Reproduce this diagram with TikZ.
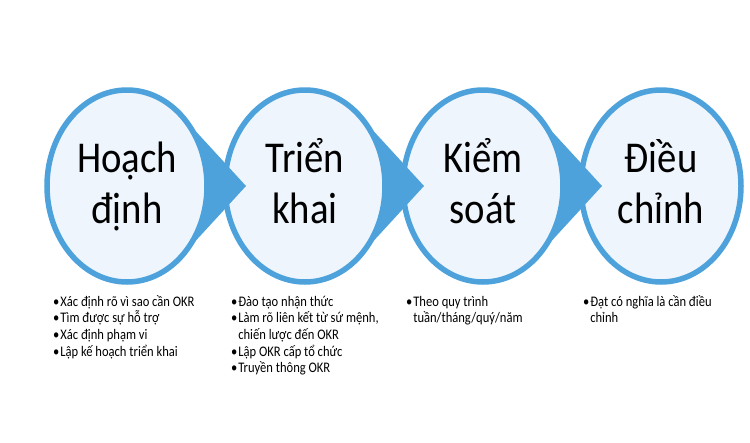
\documentclass[tikz,border=0pt]{standalone}
\usepackage{fontspec}
\usepackage{graphicx}
\setmainfont{Carlito}
\usetikzlibrary{shapes.geometric,calc}
\definecolor{okrblue}{HTML}{4EA2DB}
\definecolor{okrfill}{HTML}{EEF5FC}
\newcommand{\okrbul}{\makebox[8.3pt][l]{•}}
\newcommand{\okrind}{\hspace*{8.3pt}}
\newcommand{\okrbig}[2]{\scalebox{0.88}[1]{\fontsize{44}{51}\selectfont\begin{tabular}{@{}c@{}}#1\\#2\end{tabular}}}
\newcommand{\okrlist}[1]{\scalebox{0.86}[1]{\fontsize{14.6}{16.7}\selectfont\begin{tabular}{@{}l@{}}#1\end{tabular}}}
\begin{document}
\begin{tikzpicture}[x=1pt,y=-1pt,
  stage/.style={ellipse, draw=okrblue, fill=okrfill, line width=5.5pt,
    minimum width=160pt, minimum height=192pt, inner sep=0pt},
  arrowpart/.style={fill=okrblue},
  biglabel/.style={anchor=north, inner sep=0pt, text=black},
  bulletlist/.style={anchor=north west, inner sep=0pt, text=black}]
\fill[white] (0,0) rectangle (750,442);
\useasboundingbox (0,0) rectangle (750,442);
% stages
\node[stage] (s1) at (127,186) {};
\node[stage] (s2) at (305,186) {};
\node[stage] (s3) at (483,186) {};
\node[stage] (s4) at (661,186) {};
% arrow points
\foreach \s in {s1,s2,s3}{
  \fill[arrowpart] ($(\s.center)+(119,0)$) -- ($(\s.center)+(53.78,-71.07)$)
    arc[start angle=47.75, end angle=-47.75, x radius=80pt, y radius=96pt] -- cycle;
}
% labels
\node[biglabel] (t1) at ($(s1.center)+(0,-49.7)$) {\okrbig{Hoạch}{định}};
\node[biglabel] (t2) at ($(s2.center)+(0,-49.7)$) {\okrbig{Triển}{khai}};
\node[biglabel] (t3) at ($(s3.center)+(0,-49.7)$) {\okrbig{Kiểm}{soát}};
\node[biglabel] (t4) at ($(s4.center)+(0,-49.7)$) {\okrbig{Điều}{chỉnh}};
% bullet lists
\node[bulletlist] (b1) at (53,294.2) {\okrlist{\okrbul Xác định rõ vì sao cần OKR\\
  \okrbul Tìm được sự hỗ trợ\\ \okrbul Xác định phạm vi\\ \okrbul Lập kế hoạch triển khai}};
\node[bulletlist] (b2) at (231,294.2) {\okrlist{\okrbul Đào tạo nhận thức\\
  \okrbul Làm rõ liên kết từ sứ mệnh,\\ \okrind chiến lược đến OKR\\
  \okrbul Lập OKR cấp tổ chức\\ \okrbul Truyền thông OKR}};
\node[bulletlist] (b3) at (406,294.2) {\okrlist{\okrbul Theo quy trình\\ \okrind tuần/tháng/quý/năm}};
\node[bulletlist] (b4) at (583,294.2) {\okrlist{\okrbul Đạt có nghĩa là cần điều\\ \okrind chỉnh}};
\end{tikzpicture}
\end{document}
